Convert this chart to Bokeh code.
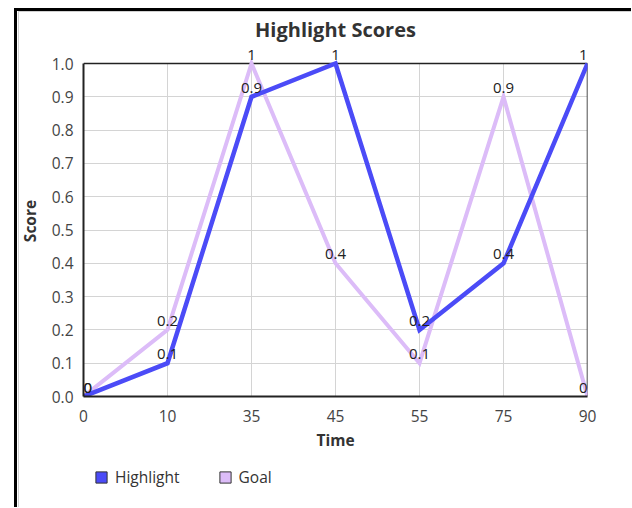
from bokeh.plotting import figure
from bokeh.models import (ColumnDataSource, Range1d, FixedTicker, LabelSet, Legend,
                          LegendItem, PrintfTickFormatter)
from bokeh.core.properties import value
from bokeh.layouts import column
from bokeh.embed import file_html
from bokeh.resources import INLINE

# ---- data ----
time_labels = ["0", "10", "35", "45", "55", "75", "90"]
highlight = [0, 0.1, 0.9, 1, 0.2, 0.4, 1]
goal = [0, 0.2, 1, 0.4, 0.1, 0.9, 0]
y_ticks = [0.0, 0.1, 0.2, 0.3, 0.4, 0.5, 0.6, 0.7, 0.8, 0.9, 1.0]
series_names = ["Highlight", "Goal"]

FONT = "Open Sans"
BLUE = "#4b4bf7"
PURPLE = "#dcbcf8"
FRAME = "#222222"
GRID = "#d4d4d4"
TXT = "15.5px"

x = list(range(len(time_labels)))
x_min, x_max = x[0], x[-1]
y_min, y_max = y_ticks[0], y_ticks[-1]

# room above the top value so that the value labels stay visible
PLOT_PX = 333
PAD_PX = 18
y_top = y_max + (y_max - y_min) * PAD_PX / PLOT_PX

W = 623
p = figure(width=W, height=448, output_backend="svg", toolbar_location=None,
           x_range=Range1d(x_min, x_max), y_range=Range1d(y_min, y_top),
           min_border_left=75, min_border_right=44, min_border_top=37,
           min_border_bottom=60, title="Highlight Scores")

p.border_fill_color = None
p.background_fill_color = "white"
p.outline_line_color = None

p.title.align = "center"
p.title.text_font = FONT
p.title.text_font_size = "20px"
p.title.text_font_style = "bold"
p.title.text_color = "#333333"
p.title.standoff = 6

p.xaxis.ticker = FixedTicker(ticks=x)
p.xaxis.major_label_overrides = {i: lab for i, lab in zip(x, time_labels)}
p.yaxis.ticker = FixedTicker(ticks=y_ticks)
p.yaxis.formatter = PrintfTickFormatter(format="%.1f")
p.yaxis.bounds = (y_min, y_max)

for ax in (p.xaxis[0], p.yaxis[0]):
    ax.major_tick_line_color = None
    ax.minor_tick_line_color = None
    ax.axis_line_color = FRAME
    ax.axis_line_width = 2
    ax.major_label_text_font = FONT
    ax.major_label_text_font_size = TXT
    ax.major_label_text_color = "#444444"
    ax.axis_label_text_font = FONT
    ax.axis_label_text_font_size = TXT
    ax.axis_label_text_font_style = "bold"
    ax.axis_label_text_color = "#333333"

p.xaxis.axis_label = "Time"
p.yaxis.axis_label = "Score"
p.xaxis.major_label_standoff = 7
p.xaxis.axis_label_standoff = 4
p.yaxis.major_label_standoff = 4
p.yaxis.axis_label_standoff = 8

p.xgrid.visible = False
p.ygrid.grid_line_color = GRID

src = ColumnDataSource(dict(x=x, h=highlight, g=goal))

# vertical grid lines, limited to the value range
p.segment(x0="x", y0=y_min, x1="x", y1=y_max, source=src, line_color=GRID, line_width=1)
# top and right edges of the plot box
p.segment(x0=[x_min, x_max], y0=[y_max, y_min], x1=[x_max, x_max], y1=[y_max, y_max],
          line_color=FRAME, line_width=1.5)

p.line("x", "g", source=src, line_color=PURPLE, line_width=4, line_join="miter")
p.line("x", "h", source=src, line_color=BLUE, line_width=4.5, line_join="miter")

n = len(x)
aligns = ["left"] + ["center"] * (n - 2) + ["right"]
for ys in (highlight, goal):
    ls = ColumnDataSource(dict(x=x, y=ys, t=[f"{v:g}" for v in ys], a=aligns))
    p.add_layout(LabelSet(x="x", y="y", text="t", source=ls, text_align="a",
                          text_baseline="bottom", y_offset=4,
                          text_font=value(FONT), text_font_size=value("15px"),
                          text_color=value("#222222")))

# ---- legend strip under the chart ----
lg = figure(width=W, height=51, output_backend="svg", toolbar_location=None,
            x_axis_location=None, y_axis_location=None,
            x_range=Range1d(0, 1), y_range=Range1d(0, 1),
            min_border_left=0, min_border_right=0, min_border_top=0, min_border_bottom=0)
lg.border_fill_color = None
lg.background_fill_color = None
lg.outline_line_color = None
lg.grid.visible = False

# legend swatches: proxies placed outside this strip's visible range
q1 = lg.quad(left=[x_max], right=[x_max], top=[y_max], bottom=[y_max],
             fill_color=BLUE, line_color="#333333")
q2 = lg.quad(left=[x_max], right=[x_max], top=[y_max], bottom=[y_max],
             fill_color=PURPLE, line_color="#333333")
legend = Legend(items=[LegendItem(label=series_names[0], renderers=[q1]),
                       LegendItem(label=series_names[1], renderers=[q2])],
                location=(11, 19), orientation="horizontal", padding=0, margin=0,
                spacing=38, glyph_width=14, glyph_height=14, label_standoff=7,
                label_height=14, label_text_font=FONT, label_text_font_size=TXT,
                label_text_color="#333333", border_line_color=None,
                background_fill_alpha=0)
lg.add_layout(legend)

col = column(p, lg)
col.margin = (8, 0, 0, 8)
col.styles = {"background-color": "white",
              "box-shadow": ("inset 6px 0 0 0 #fff, inset 9px 3px 0 0 #000, "
                             "inset 10px 3px 0 0 #fff, inset 11px 4px 0 0 #d0d0d0")}

open("out.html", "w").write(file_html(col, INLINE))
